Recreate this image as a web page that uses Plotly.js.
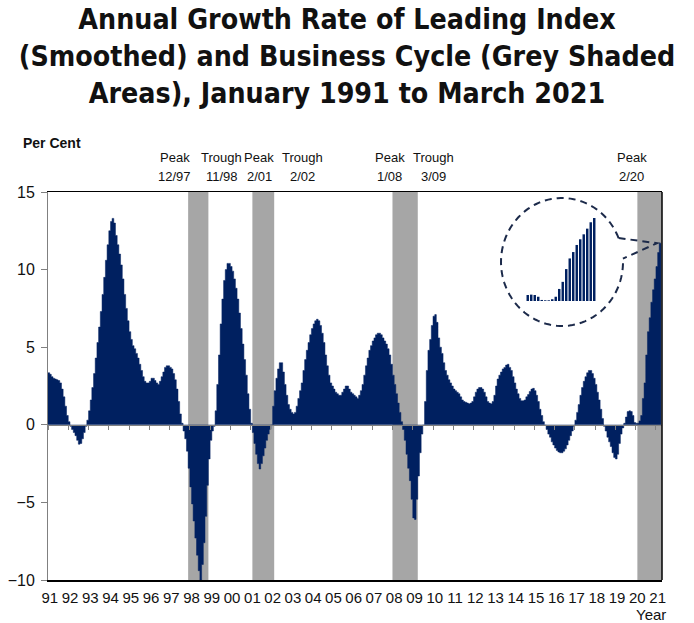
<!DOCTYPE html>
<html><head><meta charset="utf-8">
<script src="https://cdn.plot.ly/plotly-3.0.1.min.js"></script>
<style>html,body{margin:0;padding:0;background:#fff;} #chart{width:694px;height:623px;}</style>
</head><body><div id="chart"></div>
<script>
// Annual growth rate (%) of the smoothed leading index, monthly, Jan 1991 - Mar 2021
const g1991 = [3.35, 3.25, 3.1, 3.0, 2.95, 2.9, 2.85, 2.7, 2.3, 1.8, 1.2, 0.6];
const g1992 = [0.2, -0.1, -0.3, -0.5, -0.7, -1.0, -1.25, -1.2, -0.9, -0.5, -0.1, 0.3];
const g1993 = [0.9, 1.6, 2.4, 3.3, 4.3, 5.3, 6.3, 7.3, 8.4, 9.5, 10.6, 11.6];
const g1994 = [12.5, 13.1, 13.3, 13.0, 12.2, 11.6, 11.0, 10.3, 9.4, 8.4, 7.5, 6.7];
const g1995 = [6.0, 5.5, 5.1, 4.9, 4.6, 4.3, 3.9, 3.5, 3.1, 2.8, 2.7, 2.7];
const g1996 = [2.8, 3.0, 3.0, 2.85, 2.7, 2.6, 2.8, 3.1, 3.4, 3.7, 3.8, 3.8];
const g1997 = [3.7, 3.6, 3.3, 2.9, 2.3, 1.5, 0.7, 0.1, -0.4, -0.9, -1.7, -2.8];
const g1998 = [-4.0, -5.1, -6.2, -7.3, -8.4, -9.4, -10.0, -9.0, -7.6, -5.9, -3.9, -2.2];
const g1999 = [-1.0, -0.4, -0.1, 0.9, 2.6, 4.5, 6.5, 8.1, 9.3, 10.0, 10.4, 10.4];
const g2000 = [10.2, 9.9, 9.4, 8.8, 8.1, 7.2, 6.2, 5.2, 4.2, 3.2, 2.0, 1.0];
const g2001 = [0.1, -0.5, -1.2, -1.9, -2.5, -2.85, -2.5, -2.0, -1.5, -1.0, -0.6, -0.3];
const g2002 = [0.0, 1.2, 2.2, 3.0, 3.6, 4.0, 4.0, 3.4, 2.6, 1.9, 1.3, 1.0];
const g2003 = [0.8, 0.7, 0.8, 1.2, 1.7, 2.2, 2.7, 3.5, 4.2, 4.8, 5.3, 5.8];
const g2004 = [6.2, 6.5, 6.7, 6.8, 6.7, 6.4, 5.9, 5.3, 4.5, 3.8, 3.2, 2.7];
const g2005 = [2.5, 2.3, 2.1, 2.0, 1.9, 1.9, 2.1, 2.3, 2.5, 2.5, 2.3, 2.1];
const g2006 = [2.0, 1.9, 1.8, 1.7, 1.9, 2.2, 2.6, 3.2, 3.8, 4.3, 4.8, 5.1];
const g2007 = [5.4, 5.6, 5.8, 5.9, 5.9, 5.8, 5.6, 5.4, 5.2, 4.9, 4.5, 3.9];
const g2008 = [3.2, 2.6, 2.0, 1.4, 0.8, 0.2, -0.3, -1.0, -1.9, -2.8, -3.6, -4.8];
const g2009 = [-6.0, -6.1, -4.8, -3.3, -1.8, -0.6, 0.0, 1.5, 3.5, 4.8, 5.5, 6.4];
const g2010 = [7.0, 7.1, 6.6, 5.6, 5.0, 4.6, 4.0, 3.5, 3.2, 2.9, 2.7, 2.5];
const g2011 = [2.3, 2.2, 2.1, 2.0, 1.8, 1.6, 1.5, 1.45, 1.4, 1.35, 1.4, 1.5];
const g2012 = [1.8, 2.1, 2.3, 2.4, 2.4, 2.3, 2.1, 1.8, 1.5, 1.4, 1.35, 1.5];
const g2013 = [1.9, 2.5, 2.95, 3.2, 3.4, 3.6, 3.7, 3.85, 3.9, 3.7, 3.5, 3.1];
const g2014 = [2.7, 2.3, 2.0, 1.7, 1.55, 1.55, 1.6, 1.8, 1.95, 2.15, 2.3, 2.35];
const g2015 = [2.2, 1.9, 1.5, 1.0, 0.6, 0.2, 0.0, -0.3, -0.6, -0.8, -1.1, -1.3];
const g2016 = [-1.5, -1.65, -1.75, -1.8, -1.8, -1.7, -1.55, -1.3, -1.0, -0.7, -0.4, -0.1];
const g2017 = [0.3, 0.8, 1.3, 1.9, 2.4, 2.8, 3.1, 3.35, 3.5, 3.5, 3.3, 3.0];
const g2018 = [2.6, 2.1, 1.6, 1.0, 0.4, -0.1, -0.4, -0.8, -1.1, -1.4, -1.8, -2.1];
const g2019 = [-2.2, -1.9, -1.2, -0.6, -0.2, 0.1, 0.5, 0.85, 0.9, 0.85, 0.6, 0.15];
const g2020 = [0.1, 0.1, 0.25, 0.6, 1.7, 2.7, 4.5, 6.0, 6.9, 7.9, 8.7, 9.4];
const g2021 = [10.2, 11.1, 11.7];

const startYear = 1991;
const yearSeries = [g1991, g1992, g1993, g1994, g1995, g1996, g1997, g1998, g1999, g2000,
  g2001, g2002, g2003, g2004, g2005, g2006, g2007, g2008, g2009, g2010,
  g2011, g2012, g2013, g2014, g2015, g2016, g2017, g2018, g2019, g2020, g2021];

// Business cycle turning points (year, month)
const peakDates = [[1997, 12], [2001, 2], [2008, 1], [2020, 2]];
const troughDates = [[1998, 11], [2002, 2], [2009, 3], null];
const peakLabels = ['12/97', '2/01', '1/08', '2/20'];
const troughLabels = ['11/98', '2/02', '3/09'];

// x tick labels
const tickYears = [1991,1992,1993,1994,1995,1996,1997,1998,1999,2000,2001,2002,2003,2004,2005,
  2006,2007,2008,2009,2010,2011,2012,2013,2014,2015,2016,2017,2018,2019,2020,2021];
const tickLabels = ['91','92','93','94','95','96','97','98','99','00','01','02','03','04','05',
  '06','07','08','09','10','11','12','13','14','15','16','17','18','19','20','21'];

// number of final months magnified in the inset
const insetMonths = 20;

// ---------------- build ----------------
const NAVY = '#002060';
const SHADE = '#a6a6a6';
const TXT = "'Liberation Sans', Arial, sans-serif";

// monthly columns drawn as a step area: each month's value spans that whole month
const xs = [], ys = [];
yearSeries.forEach((arr, yi) => {
  arr.forEach((v, mi) => {
    xs.push(Date.UTC(startYear + yi, mi, 1));
    ys.push(v);
  });
});
const lastIdx = xs.length - 1;
const lastDate = new Date(xs[lastIdx]);
const stepX = xs.concat([Date.UTC(lastDate.getUTCFullYear(), lastDate.getUTCMonth() + 1, 1)]);
const stepY = ys.concat([ys[lastIdx]]);

const xStart = '1991-01-01';
const xEnd = '2021-04-20';

const L = 48, R = 32, T = 192, B = 43, WIDTH = 694, HEIGHT = 623;
const PW = WIDTH - L - R, PH = HEIGHT - T - B;
const px = x => (x - L) / PW;
const py = y => (HEIGHT - B - y) / PH;
const yMin = -10, yMax = 15;

const shapes = [];
peakDates.forEach((p, i) => {
  const t = troughDates[i];
  shapes.push({
    type: 'rect', xref: 'x', yref: 'paper', layer: 'below',
    x0: Date.UTC(p[0], p[1] - 1, 1),
    x1: t ? Date.UTC(t[0], t[1], 1) : xEnd,
    y0: 0, y1: 1, fillcolor: SHADE, line: {width: 0}
  });
});
// right frame edge
shapes.push({type: 'line', xref: 'paper', yref: 'paper', x0: 1, x1: 1, y0: 0, y1: 1,
  line: {color: '#000', width: 1.5}});

// inset circle with callout (decoration, pixel geometry)
const cx = 562, cy = 262, rx = 61, ry = 64;
const a0 = 22, a1 = 363;
let path = '';
for (let a = a0; a <= a1; a += 3) {
  const r = a * Math.PI / 180;
  const X = cx + rx * Math.cos(r), Y = cy - ry * Math.sin(r);
  path += (a === a0 ? 'M' : 'L') + px(X).toFixed(5) + ',' + py(Y).toFixed(5) + ' ';
}
shapes.push({type: 'path', xref: 'paper', yref: 'paper', path: path,
  line: {color: '#1c2a4a', width: 2, dash: '7px,5px'}});
const lastVal = ys[lastIdx];
const tipX = 657, tipY = T + (yMax - lastVal) / (yMax - yMin) * PH;
const pA = [cx + rx * Math.cos(a0 * Math.PI / 180), cy - ry * Math.sin(a0 * Math.PI / 180)];
const pB = [cx + rx * Math.cos(a1 * Math.PI / 180), cy - ry * Math.sin(a1 * Math.PI / 180)];
shapes.push({type: 'path', xref: 'paper', yref: 'paper',
  path: 'M' + px(pA[0]) + ',' + py(pA[1]) + ' L' + px(tipX) + ',' + py(tipY) + ' L' + px(pB[0]) + ',' + py(pB[1]),
  line: {color: '#1c2a4a', width: 2, dash: '7px,5px'}});

const insetVals = ys.slice(-insetMonths);
const insetX = insetVals.map((_, i) => i);

const annotations = [];
function txt(text, x, y, size, anchor, bold) {
  annotations.push({text: bold ? '<b>' + text + '</b>' : text, xref: 'paper', yref: 'paper',
    x: px(x), y: py(y), xanchor: anchor || 'center', yanchor: 'middle', showarrow: false,
    font: {family: TXT, size: size, color: '#111'}});
}
txt('Per Cent', 21, 143, 14, 'left', true);
const peakPos = [174.5, 259, 389.5, 631.5];
const troughPos = [221.5, 302.5, 433.5];
peakLabels.forEach((lab, i) => { txt('Peak', peakPos[i], 157, 13); txt(lab, peakPos[i], 177, 13); });
troughLabels.forEach((lab, i) => { txt('Trough', troughPos[i], 157, 13); txt(lab, troughPos[i], 177, 13); });
txt('Year', 668, 614, 15, 'right');

const data = [
  {type: 'scatter', mode: 'lines', x: stepX, y: stepY, fill: 'tozeroy', fillcolor: NAVY,
   line: {shape: 'hv', color: NAVY, width: 0.5}, hoverinfo: 'skip', showlegend: false},
  {type: 'scatter', x: [], y: [], xaxis: 'x2', yaxis: 'y', showlegend: false, hoverinfo: 'skip'},
  {type: 'bar', x: insetX, y: insetVals, xaxis: 'x3', yaxis: 'y3', marker: {color: NAVY, line: {width: 0}},
   hoverinfo: 'skip', showlegend: false}
];

const tickvalsLabel = tickYears.map(y => y + '-02-01');
const tickvalsYear = tickYears.map(y => y + '-01-01');

const layout = {
  width: WIDTH, height: HEIGHT,
  margin: {l: L, r: R, t: T, b: B, autoexpand: false},
  paper_bgcolor: '#fff', plot_bgcolor: '#fff',
  showlegend: false, bargap: 0.3,
  title: {text: '<b>Annual Growth Rate of Leading Index<br>(Smoothed) and Business Cycle (Grey Shaded<br>Areas), January 1991 to March 2021</b>',
    font: {family: "'DejaVu Sans Condensed', 'DejaVu Sans', sans-serif", size: 28.3, color: '#111'},
    x: 0.5, xanchor: 'center', xref: 'container', y: 0.953, yanchor: 'top', yref: 'container'},
  xaxis: {type: 'date', range: [xStart, xEnd], tickvals: tickvalsLabel, ticktext: tickLabels,
    tickangle: 0, ticks: 'outside', ticklen: 3, tickcolor: 'rgba(0,0,0,0)',
    tickfont: {family: TXT, size: 15, color: '#111'}, showgrid: false, zeroline: false,
    showline: true, linecolor: '#000', linewidth: 1.5, mirror: true, fixedrange: true},
  xaxis2: {type: 'date', overlaying: 'x', anchor: 'free', position: (0 - yMin) / (yMax - yMin), side: 'bottom',
    range: [xStart, xEnd], tickvals: tickvalsYear, showticklabels: false, ticks: 'outside', ticklen: 4,
    tickcolor: '#808080', tickwidth: 1, showline: true, linecolor: '#808080', linewidth: 1.5,
    showgrid: false, zeroline: false},
  yaxis: {range: [yMin, yMax], tickvals: [-10, -5, 0, 5, 10, 15], ticks: 'outside', ticklen: 6,
    ticklabelstandoff: 3,
    tickcolor: '#808080', tickfont: {family: TXT, size: 16, color: '#111'}, showgrid: false,
    zeroline: false, showline: true, linecolor: '#808080', linewidth: 1},
  xaxis3: {domain: [px(526), px(596)], anchor: 'y3', range: [-0.5, insetMonths - 0.5], visible: false},
  yaxis3: {domain: [py(301), py(218)], anchor: 'x3', range: [0, Math.max(...insetVals)], visible: false},
  shapes: shapes,
  annotations: annotations
};

Plotly.newPlot('chart', data, layout, {displayModeBar: false, staticPlot: true});
</script>
</body></html>
